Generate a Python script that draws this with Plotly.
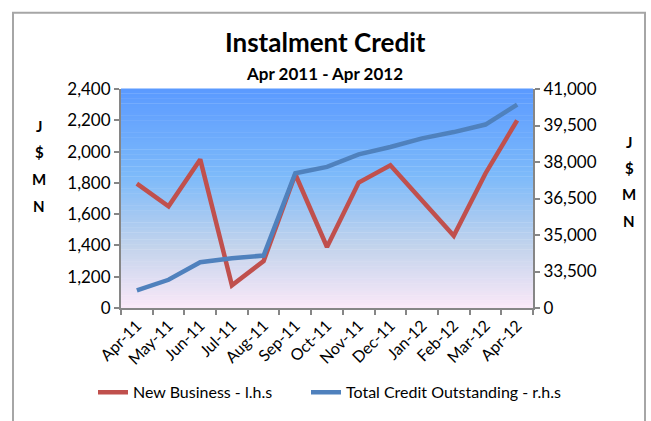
import plotly.graph_objects as go

months = ["Apr-11", "May-11", "Jun-11", "Jul-11", "Aug-11", "Sep-11", "Oct-11",
          "Nov-11", "Dec-11", "Jan-12", "Feb-12", "Mar-12", "Apr-12"]
new_business = [1795, 1650, 1950, 1145, 1300, 1855, 1390, 1802, 1912, 1688, 1462, 1860, 2200]
total_credit = [32720, 33160, 33880, 34045, 34155, 37540, 37800, 38315, 38615, 38970, 39230, 39540, 40360]

left_tickvals = [1000, 1200, 1400, 1600, 1800, 2000, 2200, 2400]
left_ticktext = ["0", "1,200", "1,400", "1,600", "1,800", "2,000", "2,200", "2,400"]
right_tickvals = [32000, 33500, 35000, 36500, 38000, 39500, 41000]
right_ticktext = ["0", "33,500", "35,000", "36,500", "38,000", "39,500", "41,000"]

W, H = 651, 421
L, R, T, B = 121, 118, 89, 111
PW, PH = W - L - R, H - T - B

def px(x):
    return (x - L) / PW

def py(y):
    return (H - B - y) / PH

FONT = "Lato, Calibri, sans-serif"
RED = "#C0504D"
BLUE = "#4F81BD"
AX = "#868686"

fig = go.Figure()
fig.add_trace(go.Scatter(x=months, y=new_business, name="New Business - l.h.s",
                         mode="lines", line=dict(color=RED, width=4.5), yaxis="y", legend="legend"))
fig.add_trace(go.Scatter(x=months, y=total_credit, name="Total Credit Outstanding - r.h.s",
                         mode="lines", line=dict(color=BLUE, width=4.5), yaxis="y2", legend="legend2"))

# gradient background of the plot area
stops = [(0.0, (91, 154, 255)), (0.4, (125, 186, 250)), (0.72, (194, 211, 236)), (1.0, (250, 232, 248))]

def col(t):
    for (a, ca), (b, cb) in zip(stops[:-1], stops[1:]):
        if a <= t <= b:
            f = (t - a) / (b - a)
            return "rgb(%d,%d,%d)" % tuple(round(ca[i] + (cb[i] - ca[i]) * f) for i in range(3))
    return "rgb(%d,%d,%d)" % stops[-1][1]

N = 90
shapes = []
for i in range(N):
    t0 = i / N
    shapes.append(dict(type="rect", xref="x domain", yref="y domain", x0=0, x1=1,
                       y0=1 - (i + 1) / N, y1=1 - t0 + 0.002, fillcolor=col((i + 0.5) / N),
                       line=dict(width=0), layer="below"))
# chart border
shapes.append(dict(type="rect", xref="paper", yref="paper", x0=px(13), x1=px(645),
                   y0=py(440), y1=py(12), line=dict(color="#A6A6A6", width=2),
                   fillcolor="rgba(0,0,0,0)", layer="above"))

annotations = [
    dict(text="<b>Instalment Credit</b>", xref="paper", yref="paper", x=px(325), y=py(42),
         showarrow=False, font=dict(family=FONT, size=26, color="black"), xanchor="center", yanchor="middle"),
    dict(text="<b>Apr 2011 - Apr 2012</b>", xref="paper", yref="paper", x=px(324), y=py(73),
         showarrow=False, font=dict(family=FONT, size=17, color="black"), xanchor="center", yanchor="middle"),
]
for k, ch in enumerate(["J", "$", "M", "N"]):
    annotations.append(dict(text="<b>%s</b>" % ch, xref="paper", yref="paper", x=px(39), y=py(126 + 27 * k),
                            showarrow=False, font=dict(family=FONT, size=15, color="black"),
                            xanchor="center", yanchor="middle"))
    annotations.append(dict(text="<b>%s</b>" % ch, xref="paper", yref="paper", x=px(629), y=py(142 + 26.7 * k),
                            showarrow=False, font=dict(family=FONT, size=15, color="black"),
                            xanchor="center", yanchor="middle"))

legend_common = dict(orientation="h", yanchor="middle", font=dict(family=FONT, size=16),
                     bgcolor="rgba(0,0,0,0)")

fig.update_layout(
    width=W, height=H,
    margin=dict(l=L, r=R, t=T, b=B),
    paper_bgcolor="white", plot_bgcolor="white",
    font=dict(family=FONT, size=15, color="black"),
    showlegend=True,
    legend=dict(x=px(93), y=py(395), xanchor="left", **legend_common),
    legend2=dict(x=px(306), y=py(395), xanchor="left", **legend_common),
    xaxis=dict(type="category", tickson="boundaries", ticks="outside", ticklen=5, tickwidth=2,
               tickcolor=AX, showline=True, linecolor=AX, linewidth=2, showgrid=False,
               tickangle=-45, tickfont=dict(family=FONT, size=16), range=[-0.5, 12.5]),
    yaxis=dict(range=[1000, 2400], tickvals=left_tickvals, ticktext=left_ticktext,
               ticks="outside", ticklen=5, tickwidth=2, tickcolor=AX, showline=True,
               linecolor=AX, linewidth=2, showgrid=False, zeroline=False,
               tickfont=dict(family=FONT, size=17)),
    yaxis2=dict(range=[32000, 41000], tickvals=right_tickvals, ticktext=right_ticktext,
                overlaying="y", side="right", ticks="outside", ticklen=5, tickwidth=2,
                tickcolor=AX, showline=True, linecolor=AX, linewidth=2, showgrid=False,
                zeroline=False, tickfont=dict(family=FONT, size=17)),
    shapes=shapes,
    annotations=annotations,
)

fig.write_html("out.html", config={"displayModeBar": False},
               post_script="document.body.style.margin='0px';document.body.style.overflow='hidden';")
